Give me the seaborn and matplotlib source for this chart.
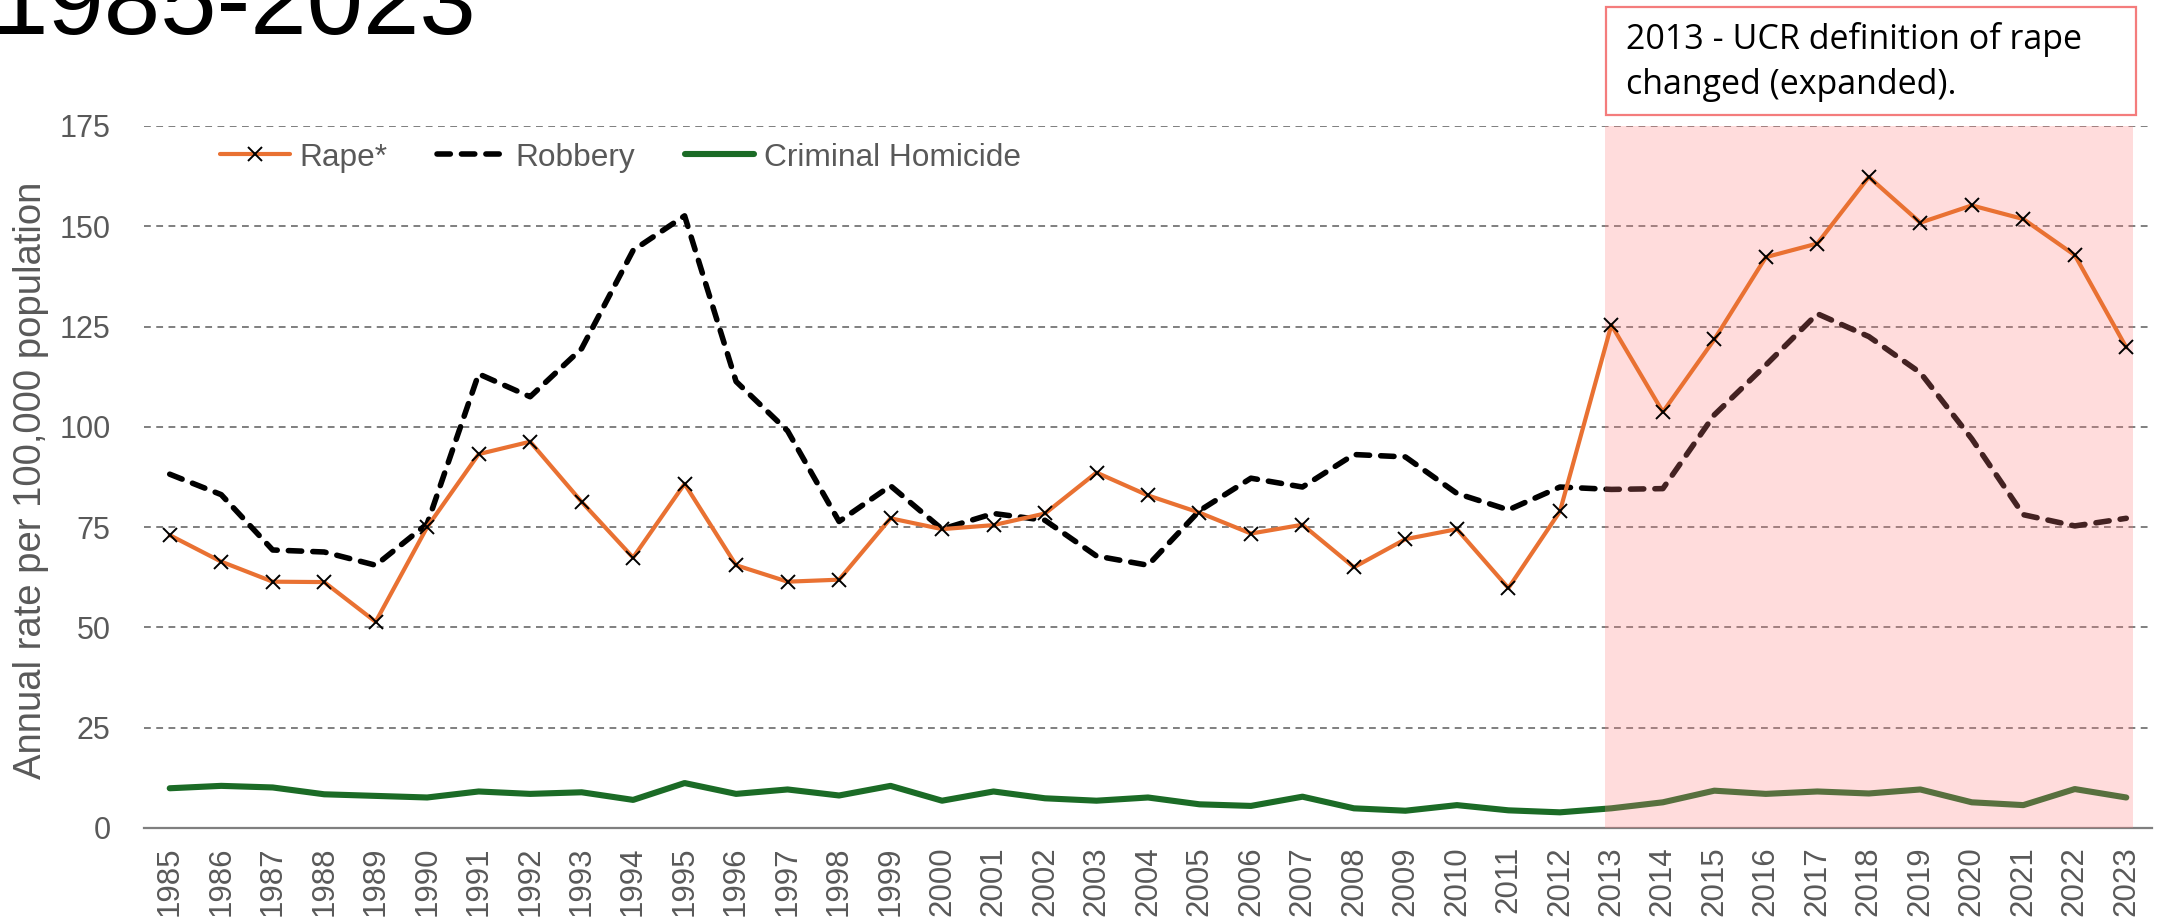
#%%
# Violent crime rates 1985-2023 - rape, robbery, criminal homicide

import numpy as np
import pandas as pd
import matplotlib
matplotlib.use('Agg')
import matplotlib.pyplot as plt
import seaborn as sns
from matplotlib.patches import Rectangle

# --- 1. Data (rate per 100,000 population) ---
years = list(range(1985, 2024))

rape = [73.0, 66.4, 61.4, 61.3, 51.4, 75.0, 93.2, 96.3, 81.3, 67.4,
        85.8, 65.5, 61.4, 61.9, 77.2, 74.5, 75.5, 78.4, 88.6, 82.9,
        78.6, 73.4, 75.6, 65.0, 72.0, 74.5, 59.8, 78.9, 125.4, 103.7,
        121.8, 142.3, 145.7, 162.3, 150.9, 155.2, 151.8, 142.8, 119.8]

robbery = [88.2, 83.1, 69.3, 68.8, 65.5, 75.8, 113.2, 107.5, 119.5, 144.0,
           152.6, 111.3, 99.0, 76.4, 85.3, 74.5, 78.4, 76.7, 67.8, 65.5,
           79.1, 87.2, 85.0, 93.1, 92.5, 83.4, 79.3, 85.0, 84.4, 84.6,
           103.0, 115.4, 128.2, 122.5, 113.5, 97.0, 78.1, 75.3, 77.2]

homicide = [9.9, 10.5, 10.1, 8.4, 8.0, 7.6, 9.1, 8.5, 8.9, 7.0,
            11.2, 8.5, 9.6, 8.1, 10.5, 6.8, 9.1, 7.4, 6.8, 7.6,
            5.9, 5.5, 7.8, 4.9, 4.3, 5.7, 4.4, 3.9, 4.9, 6.4,
            9.3, 8.5, 9.1, 8.6, 9.6, 6.4, 5.7, 9.7, 7.6]

y_ticks = [0, 25, 50, 75, 100, 125, 150, 175]

df = pd.DataFrame({'pos': np.arange(len(years)),
                   'year': years,
                   'rape': rape,
                   'robbery': robbery,
                   'homicide': homicide})

# --- 2. Style ---
sns.set_style('white')
plt.rcParams['font.family'] = ['Liberation Sans', 'DejaVu Sans']
grey_txt = '#595959'
grey_line = '#7F7F7F'

fig = plt.figure(figsize=(21.65, 9.21), dpi=100)
ax = fig.add_axes([0.0665, 0.101, 0.9275, 0.7622])

# --- 3. Lines ---
sns.lineplot(ax=ax, data=df, x='pos', y='robbery', color='black',
             linewidth=4.0, linestyle=(0, (2.4, 2.0)), dash_capstyle='round',
             label='Robbery', zorder=2)
sns.lineplot(ax=ax, data=df, x='pos', y='homicide', color='#1B6B26',
             linewidth=4.4, solid_capstyle='round',
             label='Criminal Homicide', zorder=2)

# 2013 onward shading (drawn over robbery / homicide)
ax.axvspan(27.87, 38.14, color='#FF8080', alpha=0.27, lw=0, zorder=3)

sns.lineplot(ax=ax, data=df, x='pos', y='rape', color='#E97132',
             linewidth=3.0, marker='x', markersize=10, markeredgecolor='black',
             markeredgewidth=1.4, label='Rape*', zorder=4)

# --- 4. Axes ---
ax.set_xlim(-0.5, len(years) - 0.5)
ax.set_ylim(0, 175)
ax.set_yticks(y_ticks)
ax.set_yticklabels([str(v) for v in y_ticks])
ax.set_xticks(np.arange(-0.5, len(years), 1))
ax.set_xticklabels([])
ax.set_xticks(np.arange(len(years)), minor=True)
ax.set_xticklabels([str(y) for y in years], minor=True, rotation=90)

ax.tick_params(axis='y', length=0, pad=24, labelsize=22, labelcolor=grey_txt)
ax.tick_params(axis='x', which='major', direction='in', length=7,
               width=1.5, color=grey_line)
ax.tick_params(axis='x', which='minor', length=0, pad=13, labelsize=22.5,
               labelcolor=grey_txt)

ax.grid(axis='y', color=grey_line, linestyle=(0, (3.5, 2.8)), linewidth=1.4)
ax.grid(axis='x', visible=False)
ax.set_axisbelow(True)
for side in ['top', 'right', 'left']:
    ax.spines[side].set_visible(False)
ax.spines['bottom'].set_color(grey_line)
ax.spines['bottom'].set_linewidth(1.6)
ax.set_xlabel('')
ax.set_ylabel('')

fig.text(0.0145, 0.479, 'Annual rate per 100,000 population', rotation=90,
         ha='center', va='center', fontsize=27.5, color=grey_txt)

# legend: Rape*, Robbery, Criminal Homicide
handles, labels = ax.get_legend_handles_labels()
order = [labels.index(n) for n in ['Rape*', 'Robbery', 'Criminal Homicide']]
ax.legend([handles[i] for i in order], [labels[i] for i in order],
          ncol=3, frameon=False, loc='center left',
          bbox_to_anchor=(0.038, 0.955), borderpad=0, borderaxespad=0,
          handlelength=2.2, handletextpad=0.3, columnspacing=1.55,
          fontsize=22.8, labelcolor=grey_txt)

# --- 5. Title fragment and note box ---
fig.text(-0.004, 1 - 34 / 921, '1985-2023', fontsize=73, ha='left',
         va='baseline', color='black')

fig.patches.append(Rectangle((0.7418, 1 - 115 / 921), 0.2448, 108 / 921,
                             transform=fig.transFigure, facecolor='white',
                             edgecolor='#F47C7C', linewidth=1.6))
fig.text(0.7510, 1 - 62 / 921, '2013 - UCR definition of rape\nchanged (expanded).',
         fontsize=24.5, family=['Open Sans', 'DejaVu Sans'], ha='left',
         va='center', linespacing=1.45, color='black')

fig.savefig('out.png', dpi=100)
plt.close()
